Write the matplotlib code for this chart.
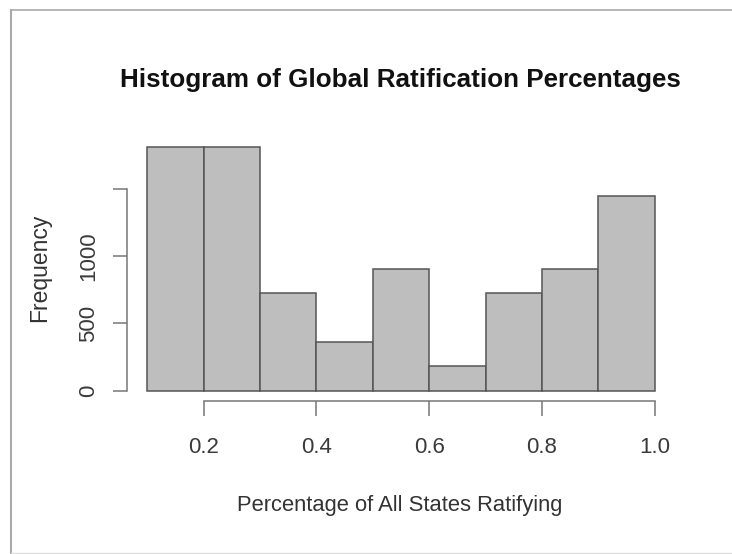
import matplotlib
matplotlib.use("Agg")
import matplotlib.pyplot as plt
from matplotlib.lines import Line2D
import numpy as np

# Data
bin_edges = [0.1, 0.2, 0.3, 0.4, 0.5, 0.6, 0.7, 0.8, 0.9, 1.0]
counts = [1810, 1810, 724, 362, 905, 181, 724, 905, 1448]
x_ticks = [0.2, 0.4, 0.6, 0.8, 1.0]
x_tick_labels = ["0.2", "0.4", "0.6", "0.8", "1.0"]
y_ticks = [0, 500, 1000, 1500]
y_tick_labels = ["0", "500", "1000", ""]
title = "Histogram of Global Ratification Percentages"
xlabel = "Percentage of All States Ratifying"
ylabel = "Frequency"

plt.rcParams['font.family'] = ['Liberation Sans', 'DejaVu Sans']

W, H = 732, 554
fig = plt.figure(figsize=(W / 100, H / 100), dpi=100)
fig.patch.set_facecolor("white")

# Axes placed in pixel terms
left, right, bottom, top = 127, 675, 400.5, 137
ax = fig.add_axes([left / W, 1 - bottom / H, (right - left) / W, (bottom - top) / H])
ax.set_facecolor("white")

edges = np.array(bin_edges)
widths = np.diff(edges)
ax.bar(edges[:-1], counts, width=widths, align="edge", color="#bebebe",
       edgecolor="#555555", linewidth=1.1)

xr = edges[-1] - edges[0]
ax.set_xlim(edges[0] - 0.04 * xr, edges[-1] + 0.04 * xr)
ymax = max(counts)
ax.set_ylim(-0.04 * ymax, ymax * 1.04)

for s in ["top", "right"]:
    ax.spines[s].set_visible(False)
ax.spines["left"].set_bounds(0, 1500)
ax.spines["bottom"].set_bounds(0.2, 1.0)
for s in ["left", "bottom"]:
    ax.spines[s].set_color("#777777")
    ax.spines[s].set_linewidth(1.1)

ax.set_xticks(x_ticks)
ax.set_xticklabels(x_tick_labels)
ax.set_yticks(y_ticks)
ax.set_yticklabels(y_tick_labels, rotation=90, va="center")
ax.tick_params(axis="both", colors="#777777", labelcolor="#3a3a3a",
               width=1.1, labelsize=16)
ax.tick_params(axis="x", length=10.8, pad=15.5)
ax.tick_params(axis="y", length=9.8, pad=10.5)

fig.text(400 / W, 1 - 80 / H, title, ha="center", va="center",
         fontsize=18.7, fontweight="bold", color="#111111")
fig.text(400 / W, 1 - 506 / H, xlabel, ha="center", va="center",
         fontsize=15.8, color="#333333")
fig.text(40 / W, 1 - 268 / H, ylabel, ha="center", va="center",
         rotation=90, fontsize=16.5, color="#333333")

# Screenshot frame
fig.add_artist(Line2D([11 / W, 11 / W], [1 - 553 / H, 1 - 9.5 / H],
                      transform=fig.transFigure, color="#aaaaaa", lw=1.5))
fig.add_artist(Line2D([11 / W, 1.0], [1 - 9.5 / H, 1 - 9.5 / H],
                      transform=fig.transFigure, color="#aaaaaa", lw=1.2))
fig.add_artist(Line2D([11 / W, 1.0], [1 - 553 / H, 1 - 553 / H],
                      transform=fig.transFigure, color="#dddddd", lw=1.0))

fig.savefig("out.png", dpi=100)
